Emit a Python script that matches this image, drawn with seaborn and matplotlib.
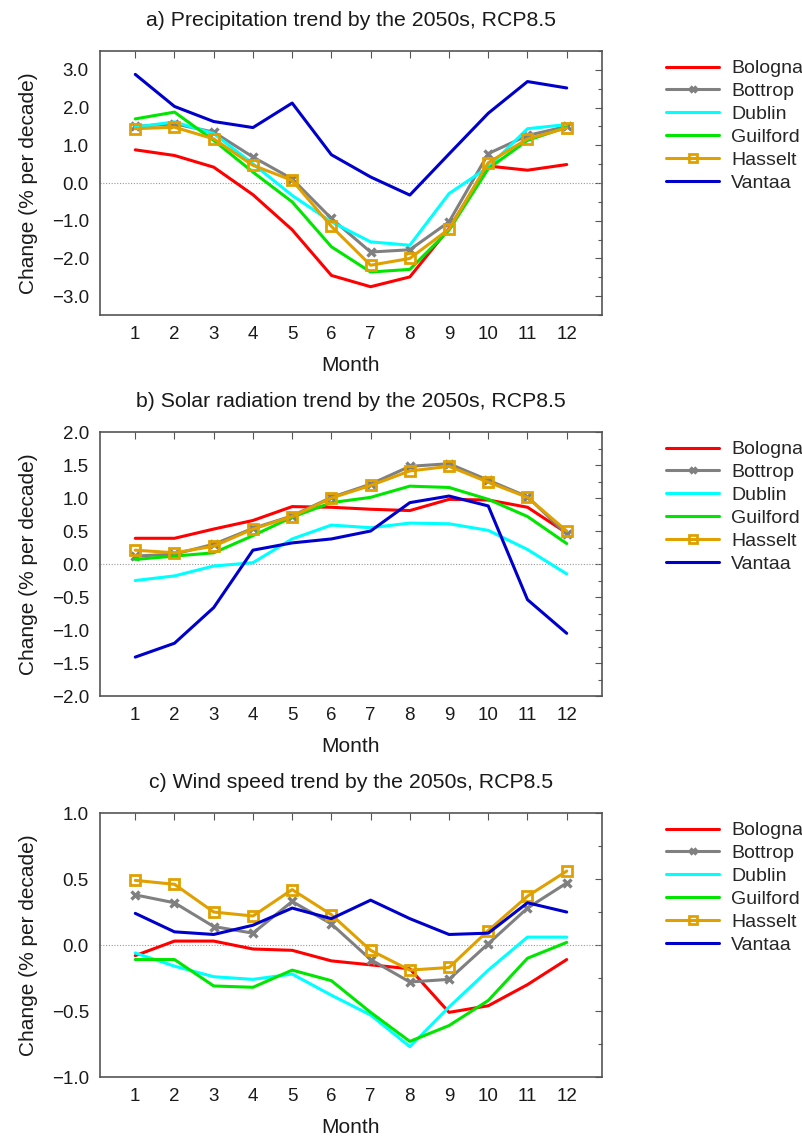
import numpy as np
import pandas as pd
import matplotlib
matplotlib.use("Agg")
import matplotlib.pyplot as plt
from matplotlib.ticker import MultipleLocator, FuncFormatter
import seaborn as sns

months = list(range(1, 13))
cities = ["Bologna", "Bottrop", "Dublin", "Guilford", "Hasselt", "Vantaa"]

# a) precipitation trend (% per decade)
precip_bologna = [0.88, 0.73, 0.42, -0.31, -1.24, -2.45, -2.75, -2.49, -1.20, 0.45, 0.34, 0.49]
precip_bottrop = [1.50, 1.57, 1.35, 0.69, 0.11, -0.94, -1.83, -1.77, -1.03, 0.78, 1.26, 1.50]
precip_dublin = [1.48, 1.62, 1.31, 0.51, -0.33, -1.03, -1.56, -1.65, -0.28, 0.42, 1.44, 1.55]
precip_guilford = [1.70, 1.88, 1.13, 0.29, -0.50, -1.69, -2.36, -2.29, -1.25, 0.38, 1.13, 1.48]
precip_hasselt = [1.44, 1.48, 1.17, 0.47, 0.07, -1.15, -2.18, -2.00, -1.22, 0.54, 1.17, 1.46]
precip_vantaa = [2.88, 2.03, 1.63, 1.47, 2.12, 0.75, 0.16, -0.32, 0.77, 1.85, 2.69, 2.52]

# b) solar radiation trend (% per decade)
solar_bologna = [0.39, 0.39, 0.53, 0.66, 0.87, 0.86, 0.83, 0.81, 0.98, 0.97, 0.86, 0.47]
solar_bottrop = [0.12, 0.15, 0.30, 0.54, 0.73, 1.01, 1.21, 1.48, 1.52, 1.27, 1.02, 0.45]
solar_dublin = [-0.25, -0.18, -0.03, 0.02, 0.38, 0.59, 0.55, 0.62, 0.61, 0.51, 0.22, -0.15]
solar_guilford = [0.07, 0.12, 0.17, 0.43, 0.71, 0.93, 1.01, 1.18, 1.16, 0.98, 0.72, 0.31]
solar_hasselt = [0.21, 0.17, 0.27, 0.53, 0.72, 1.00, 1.19, 1.41, 1.48, 1.24, 1.01, 0.50]
solar_vantaa = [-1.41, -1.20, -0.66, 0.21, 0.32, 0.38, 0.50, 0.93, 1.03, 0.88, -0.54, -1.05]

# c) wind speed trend (% per decade)
wind_bologna = [-0.08, 0.03, 0.03, -0.03, -0.04, -0.12, -0.15, -0.18, -0.51, -0.46, -0.30, -0.11]
wind_bottrop = [0.38, 0.32, 0.14, 0.09, 0.33, 0.16, -0.11, -0.28, -0.26, 0.01, 0.28, 0.47]
wind_dublin = [-0.06, -0.16, -0.24, -0.26, -0.22, -0.38, -0.53, -0.77, -0.47, -0.19, 0.06, 0.06]
wind_guilford = [-0.11, -0.11, -0.31, -0.32, -0.19, -0.27, -0.51, -0.73, -0.61, -0.42, -0.10, 0.02]
wind_hasselt = [0.49, 0.46, 0.25, 0.22, 0.42, 0.23, -0.04, -0.19, -0.17, 0.11, 0.37, 0.56]
wind_vantaa = [0.24, 0.10, 0.08, 0.15, 0.28, 0.20, 0.34, 0.20, 0.08, 0.09, 0.32, 0.25]

titles = [
    "a) Precipitation trend by the 2050s, RCP8.5",
    "b) Solar radiation trend by the 2050s, RCP8.5",
    "c) Wind speed trend by the 2050s, RCP8.5",
]
panels = [
    [precip_bologna, precip_bottrop, precip_dublin, precip_guilford, precip_hasselt, precip_vantaa],
    [solar_bologna, solar_bottrop, solar_dublin, solar_guilford, solar_hasselt, solar_vantaa],
    [wind_bologna, wind_bottrop, wind_dublin, wind_guilford, wind_hasselt, wind_vantaa],
]
ylims = [(-3.5, 3.5), (-2.0, 2.0), (-1.0, 1.0)]
ymajor = [1.0, 0.5, 0.5]
yminor = [0.5, 0.25, 0.25]

colors = {
    "Bologna": "#ff0000",
    "Bottrop": "#808080",
    "Dublin": "#00ffff",
    "Guilford": "#00e600",
    "Hasselt": "#e0a000",
    "Vantaa": "#0000cc",
}
markers = {"Bottrop": "x", "Hasselt": "s"}


def fmt_tick(v, pos):
    s = "%.1f" % v
    return s.replace("-", "\u2212")


sns.set_theme(style="white")
plt.rcParams["font.family"] = ["Liberation Sans", "DejaVu Sans"]
plt.rcParams["axes.unicode_minus"] = True

fig = plt.figure(figsize=(8.03, 11.36), dpi=100)
axes_rects = [
    [0.1245, 0.7227, 0.6252, 0.2324],
    [0.1245, 0.3873, 0.6252, 0.2324],
    [0.1245, 0.0519, 0.6252, 0.2324],
]
text_color = "#1a1a1a"

for k in range(3):
    ax = fig.add_axes(axes_rects[k])
    rows = []
    for city, vals in zip(cities, panels[k]):
        for m, v in zip(months, vals):
            rows.append({"Month": m, "Change": v, "City": city})
    df = pd.DataFrame(rows)

    ax.axhline(0, color="#999999", lw=0.8, ls=(0, (1, 1.5)), zorder=1)
    for city in cities:
        sub = df[df["City"] == city]
        mk = markers.get(city)
        kw = {}
        if mk == "x":
            kw = dict(marker="x", markersize=5.5, markeredgewidth=2.4,
                      markeredgecolor=colors[city])
        elif mk == "s":
            kw = dict(marker="s", markersize=7.5, markeredgewidth=2.0,
                      markerfacecolor="none", markeredgecolor=colors[city])
        sns.lineplot(data=sub, x="Month", y="Change", color=colors[city],
                     linewidth=2.2, label=city, ax=ax, zorder=3, **kw)

    ax.set_xlim(0.1, 12.9)
    ax.set_ylim(*ylims[k])
    ax.set_xticks(months)
    ax.yaxis.set_major_locator(MultipleLocator(ymajor[k]))
    ax.yaxis.set_minor_locator(MultipleLocator(yminor[k]))
    ax.yaxis.set_major_formatter(FuncFormatter(fmt_tick))
    ax.tick_params(axis="both", which="both", direction="in", top=True, right=True,
                   colors="#555555", labelcolor=text_color, labelsize=13.5)
    ax.tick_params(axis="both", which="major", length=5, width=0.8, pad=8)
    ax.tick_params(axis="y", which="minor", length=3, width=0.8)
    ax.tick_params(axis="x", which="minor", length=0)
    for s in ax.spines.values():
        s.set_color("#555555")
        s.set_linewidth(1.2)
    ax.set_title(titles[k], fontsize=15.3, pad=18, color=text_color)
    ax.set_xlabel("Month", fontsize=15, color=text_color, labelpad=9)
    ax.set_ylabel("Change (% per decade)", fontsize=15, color=text_color, labelpad=10)
    ax.legend(loc="upper left", bbox_to_anchor=(1.127, 0.967), frameon=False,
              fontsize=14, handlelength=2.75, handletextpad=0.6,
              labelspacing=0.27, borderpad=0, borderaxespad=0, markerscale=0.7)

fig.savefig("out.png", dpi=100, facecolor="white")
